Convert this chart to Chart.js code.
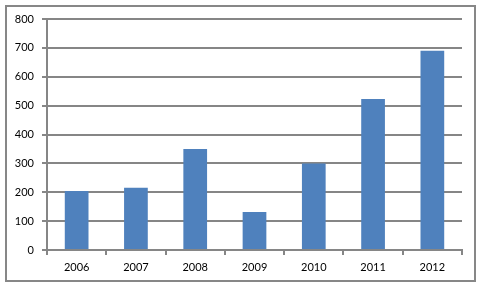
<!DOCTYPE html>
<html lang="en">
<head>
<meta charset="UTF-8">
<title>Bar chart 2006-2012</title>
<script src="https://cdn.jsdelivr.net/npm/chart.js"></script>
<style>
    body { margin: 0; background: #fff; }
    .frame {
        position: absolute;
        left: 5px; top: 5px;
        width: 467px; height: 273px;
        border: 2px solid #878787;
    }
    .wrap { position: absolute; left: 0; top: 0; width: 480px; height: 288px; }
</style>
</head>
<body>
<div class="frame"></div>
<div class="wrap"><canvas id="barChart" width="480" height="288"></canvas></div>

<script>
    var years = ['2006', '2007', '2008', '2009', '2010', '2011', '2012'];
    var values = [204, 216, 350, 132, 300, 523, 690];
    var yTicks = [0, 100, 200, 300, 400, 500, 600, 700, 800];

    var gray = '#868686';

    var ctx = document.getElementById('barChart').getContext('2d');
    new Chart(ctx, {
        type: 'bar',
        data: {
            labels: years,
            datasets: [{
                data: values,
                backgroundColor: '#4F81BD',
                borderWidth: 0,
                categoryPercentage: 0.8,
                barPercentage: 0.5
            }]
        },
        options: {
            responsive: false,
            animation: false,
            layout: { padding: { top: 19, right: 18, left: 0, bottom: 0 } },
            scales: {
                x: {
                    grid: {
                        drawOnChartArea: false,
                        drawTicks: true,
                        tickLength: 5,
                        color: gray,
                        lineWidth: 2
                    },
                    border: { color: gray, width: 2 },
                    ticks: {
                        color: '#000',
                        padding: 6,
                        font: { family: 'Lato', size: 11 }
                    },
                    afterFit: function(scale) { scale.height = 38; }
                },
                y: {
                    min: 0,
                    max: 800,
                    afterBuildTicks: function(scale) {
                        scale.ticks = yTicks.map(function(v) { return { value: v }; });
                    },
                    grid: {
                        color: gray,
                        lineWidth: 2,
                        tickLength: 5
                    },
                    border: { color: gray, width: 2 },
                    ticks: {
                        color: '#000',
                        padding: 8,
                        font: { family: 'Lato', size: 11 }
                    },
                    afterFit: function(scale) { scale.width = 47; }
                }
            },
            plugins: {
                legend: { display: false },
                tooltip: { enabled: false }
            }
        }
    });
</script>
</body>
</html>
